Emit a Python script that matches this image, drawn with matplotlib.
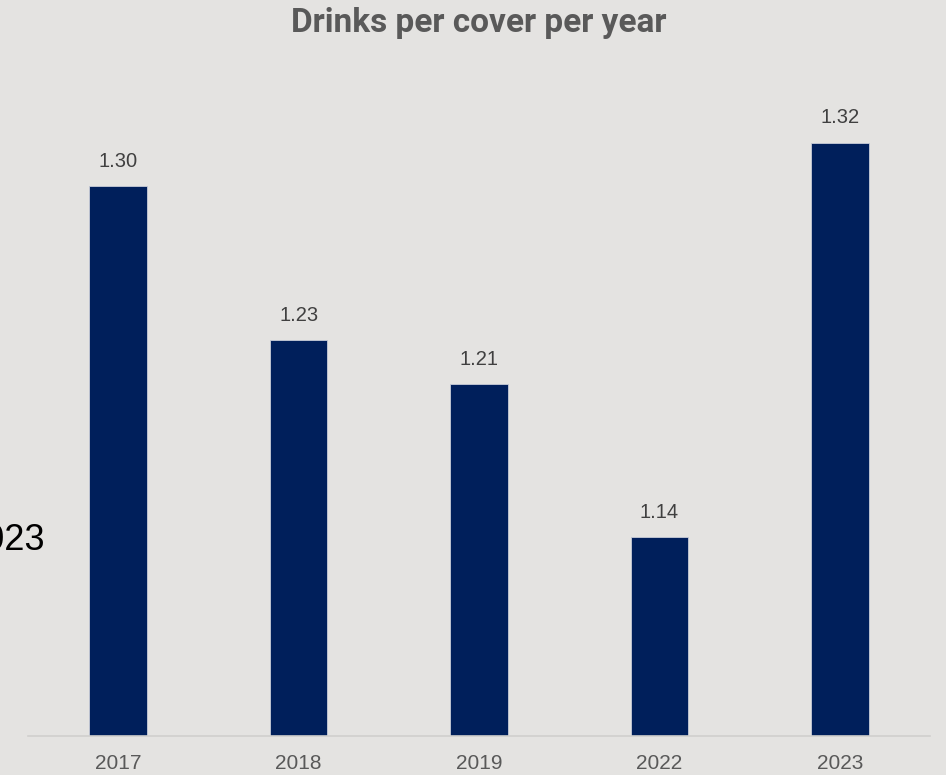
import matplotlib
matplotlib.use("Agg")
import matplotlib.pyplot as plt

years = ["2017", "2018", "2019", "2022", "2023"]
values = [1.30, 1.23, 1.21, 1.14, 1.32]

BG = "#E4E3E1"
BAR = "#001F5B"

fig = plt.figure(figsize=(9.46, 7.75), dpi=100, facecolor=BG)
W, H = 946, 775
top_px, bottom_px, left_px, right_px = 60, 736, 28, 930
ax = fig.add_axes([left_px / W, (H - bottom_px) / H, (right_px - left_px) / W, (bottom_px - top_px) / H])
ax.set_facecolor(BG)

x = list(range(len(years)))
bars = ax.bar(x, values, width=0.32, color=BAR, edgecolor="#C8CCD8", linewidth=0.6, zorder=2)
ymin = 1.0495
ymax = ymin + (bottom_px - top_px) / 2194
ax.set_ylim(ymin, ymax)
ax.set_xlim(-0.5, 4.5)

for xi, v in zip(x, values):
    ax.annotate(f"{v:.2f}", (xi, v), xytext=(0, 11), textcoords="offset points",
                ha="center", va="bottom", fontsize=14.5, color="#404040", family="Liberation Sans")

ax.set_xticks(x)
ax.set_xticklabels(years, fontsize=15, color="#595959", family="Liberation Sans")
ax.tick_params(axis="x", length=0, pad=13)
ax.set_yticks([])
for s in ["top", "right", "left"]:
    ax.spines[s].set_visible(False)
ax.spines["bottom"].set_color("#D0CFCD")
ax.spines["bottom"].set_linewidth(1.2)

fig.text(479 / W, 1 - 23 / H, "Drinks per cover per year", ha="center", va="center",
         fontsize=24, fontweight="bold", color="#595959", family="Roboto")
fig.text(45 / W, 1 - 540 / H, "2023", ha="right", va="center", fontsize=26,
         color="#000000", family="Liberation Sans")

fig.savefig("out.png", dpi=100, facecolor=BG)
